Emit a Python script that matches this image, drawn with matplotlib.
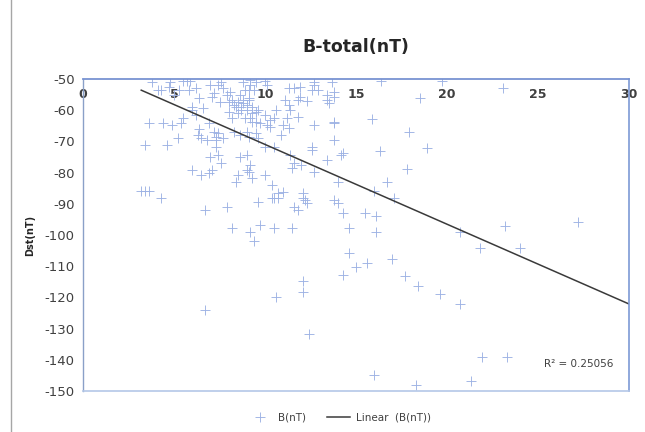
import matplotlib
matplotlib.use("Agg")
import matplotlib.pyplot as plt
from matplotlib.lines import Line2D
import numpy as np

# ---- data ----
b_total = [
    3.2, 3.4, 3.6, 4.3, 3.4, 4.6, 5.2, 3.6, 4.4, 4.9, 5.4, 5.5, 3.8, 4.1, 4.3, 4.7, 4.8,
    5.5, 5.7, 5.9, 5.3, 5.8, 6.2, 6.4, 6.0, 6.0, 6.6, 7.0, 7.4, 7.6, 7.7, 8.1, 7.1, 7.5,
    7.9, 8.2, 8.6, 8.9, 8.0, 8.2, 8.5, 8.7, 8.9, 6.3, 6.5, 6.8, 7.3, 7.7, 7.4, 7.3, 7.0,
    7.4, 7.6, 8.6, 9.0, 6.0, 6.5, 6.9, 7.1, 8.5, 8.4, 9.0,
    7.2, 8.8, 9.2, 9.4, 8.8, 8.0, 8.4, 9.0, 8.7, 9.5, 9.2, 9.5, 7.2, 7.3, 8.3, 8.6, 9.0,
    8.3, 8.5, 8.8, 9.1, 6.2, 5.0, 6.9, 6.4,
    9.2, 9.5, 10.0, 10.1, 9.1, 11.3, 11.6, 11.9, 12.7, 12.6, 12.9, 13.7, 13.8, 13.4, 11.1,
    11.3, 11.8, 11.9, 11.4, 9.1, 9.3, 9.0, 9.3, 9.6, 10.0, 10.3, 10.5, 9.3, 9.7, 10.1,
    10.3, 11.0, 11.3, 11.2, 11.8, 12.7, 13.8, 13.8, 9.5, 9.1, 9.6, 10.0, 10.5, 12.6, 12.6,
    13.4, 14.2, 11.4, 11.6, 12.0, 11.5, 12.7, 14.0, 9.2, 9.1, 10.0, 9.3, 10.4, 10.7, 11.0,
    10.4, 9.6, 12.1, 12.2, 13.8, 14.0, 12.7, 13.5, 13.4, 13.8, 13.8, 14.3, 10.6, 10.9, 12.3,
    6.7, 7.9, 10.5, 10.7, 11.6, 11.8, 12.1, 12.3, 14.3, 8.2, 9.2, 9.7, 10.5, 11.5, 9.4,
    14.6, 14.6, 15.0, 14.3, 12.1, 12.1, 10.6, 6.7, 12.4,
    16.4, 19.7, 23.1, 18.5, 15.9, 17.9, 16.3, 18.9, 17.8, 16.7, 16.0, 17.1, 15.5, 16.1,
    16.1, 15.6, 17.0, 17.7, 18.4, 19.6, 20.7, 20.7, 21.8, 23.2, 24.0, 27.2, 21.9, 23.3,
    16.0, 18.3, 21.3,
]
dst = [
    -86.0, -86.0, -86.0, -88.0, -71.2, -71.2, -69.0, -64.2, -64.2, -64.7, -64.2, -62.6,
    -51.0, -53.5, -53.5, -52.6, -51.0,
    -50.6, -50.6, -50.6, -53.5, -53.5, -52.9, -56.2, -58.9, -59.9, -59.4, -51.9, -51.9,
    -50.9, -53.0, -54.1, -55.7, -57.3, -55.1, -56.7, -55.1, -53.5, -60.5, -62.6, -61.0,
    -58.9, -62.6, -67.9, -69.0, -69.6, -69.6, -69.0, -67.4, -71.7, -74.9, -74.4, -77.0,
    -74.9, -74.4, -79.2, -80.8, -80.2, -79.2, -80.8, -82.9, -79.2,
    -54.6, -50.9, -51.9, -53.5, -56.7, -57.3, -58.9, -58.3, -59.9, -60.5, -62.6, -63.7,
    -66.9, -68.5, -66.9, -67.9, -66.9, -58.3, -57.3, -57.8, -56.2, -61.5, -55.0, -64.0,
    -66.0,
    -50.3, -50.9, -50.6, -51.9, -53.5, -53.0, -53.0, -52.5, -51.9, -53.5, -53.5, -50.9,
    -54.1, -55.1, -56.7, -58.3, -56.7, -55.7, -59.9, -56.7, -58.9, -59.9, -61.0, -59.9,
    -61.5, -63.1, -62.6, -63.7, -64.2, -64.7, -65.3, -64.7, -65.8, -62.6, -62.1, -64.7,
    -64.2, -69.6, -67.4, -68.5, -69.0, -71.7, -71.7, -72.8, -71.7, -76.0, -74.4, -74.4,
    -77.0, -77.6, -78.6, -79.7, -82.9, -77.6, -79.7, -80.8, -81.8, -84.0, -86.6, -86.1,
    -88.2, -89.3, -86.6, -88.8, -88.8, -89.8, -50.9, -57.8, -56.7, -55.7, -63.7, -73.8,
    -60.0, -68.0, -57.0,
    -92.0, -91.1, -88.2, -88.2, -90.9, -92.0, -88.2, -89.8, -93.0, -97.9, -98.9, -96.8,
    -97.9, -97.9, -101.9, -97.9, -105.9, -110.2, -112.8, -114.7, -118.2, -120.0, -124.0,
    -131.8,
    -50.6, -50.6, -53.0, -56.0, -62.8, -66.9, -73.1, -72.0, -78.9, -82.9, -85.9, -88.0,
    -93.0, -93.9, -98.9, -109.1, -107.8, -113.0, -116.2, -119.0, -122.1, -98.9, -104.1,
    -97.0, -104.1, -95.9, -139.0, -139.0, -144.9, -148.1, -146.8,
]

trend_slope = -2.557
trend_intercept = -45.4
trend_x_end = 30
r_squared_text = "R\u00b2 = 0.25056"

x_ticks = [0, 5, 10, 15, 20, 25, 30]
y_ticks = [-50, -60, -70, -80, -90, -100, -110, -120, -130, -140, -150]

title = "B-total(nT)"
y_label = "Dst(nT)"
series_label = "B(nT)"
trend_label = "Linear  (B(nT))"

# ---- figure ----
fig = plt.figure(figsize=(6.45, 4.32), dpi=100)
ax = fig.add_axes([83 / 645, 1 - 391 / 432, (629 - 83) / 645, (391 - 79) / 432])

marker_color = "#9db2e4"
ax.plot(b_total, dst, linestyle="none", marker="+", markersize=7.5,
        markeredgewidth=0.65, color=marker_color, label=series_label)

tx = np.array([min(b_total), trend_x_end])
ax.plot(tx, trend_slope * tx + trend_intercept, color="#3a3a3a", linewidth=1.1,
        label=trend_label)

ax.set_xlim(0, 30)
ax.set_ylim(-150, -50)
ax.set_xticks(x_ticks)
ax.set_yticks(y_ticks)
ax.set_yticklabels([str(v) for v in y_ticks])

ax.tick_params(axis="x", top=True, bottom=False, labeltop=True, labelbottom=False,
               length=0, pad=-16, labelsize=9, labelcolor="#404040")
for lab in ax.get_xticklabels():
    lab.set_fontweight("bold")
ax.tick_params(axis="y", length=0, pad=6, labelsize=9.5, labelcolor="#404040")

ax.spines["top"].set_color("#7893d2")
ax.spines["top"].set_linewidth(1.3)
ax.spines["right"].set_color("#7d9ad6")
ax.spines["right"].set_linewidth(1.2)
ax.spines["left"].set_color("#8aa0c8")
ax.spines["left"].set_linewidth(1.0)
ax.spines["bottom"].set_color("#b4c7e7")
ax.spines["bottom"].set_linewidth(1.2)

ax.set_ylabel(y_label, fontsize=7, fontweight="bold", color="#262626", labelpad=10)
ax.yaxis.set_label_coords(-0.088, 0.5)

fig.text(356 / 645, 1 - 47 / 432, title, ha="center", va="center",
         fontsize=12.5, fontweight="bold", color="#262626")

ax.text(0.972, 0.085, r_squared_text, transform=ax.transAxes, ha="right",
        va="center", fontsize=7.5, color="#404040")

leg = fig.legend(loc="center", bbox_to_anchor=(340 / 645, 1 - 418 / 432), ncol=2,
                 frameon=False, fontsize=7.5, handlelength=2.2, columnspacing=2.0,
                 handletextpad=0.6)
for t in leg.get_texts():
    t.set_color("#404040")

fig.add_artist(Line2D([11 / 645, 11 / 645], [0, 1], transform=fig.transFigure,
                      color="#a6a6a6", linewidth=1.0))

fig.savefig("out.png", dpi=100)
